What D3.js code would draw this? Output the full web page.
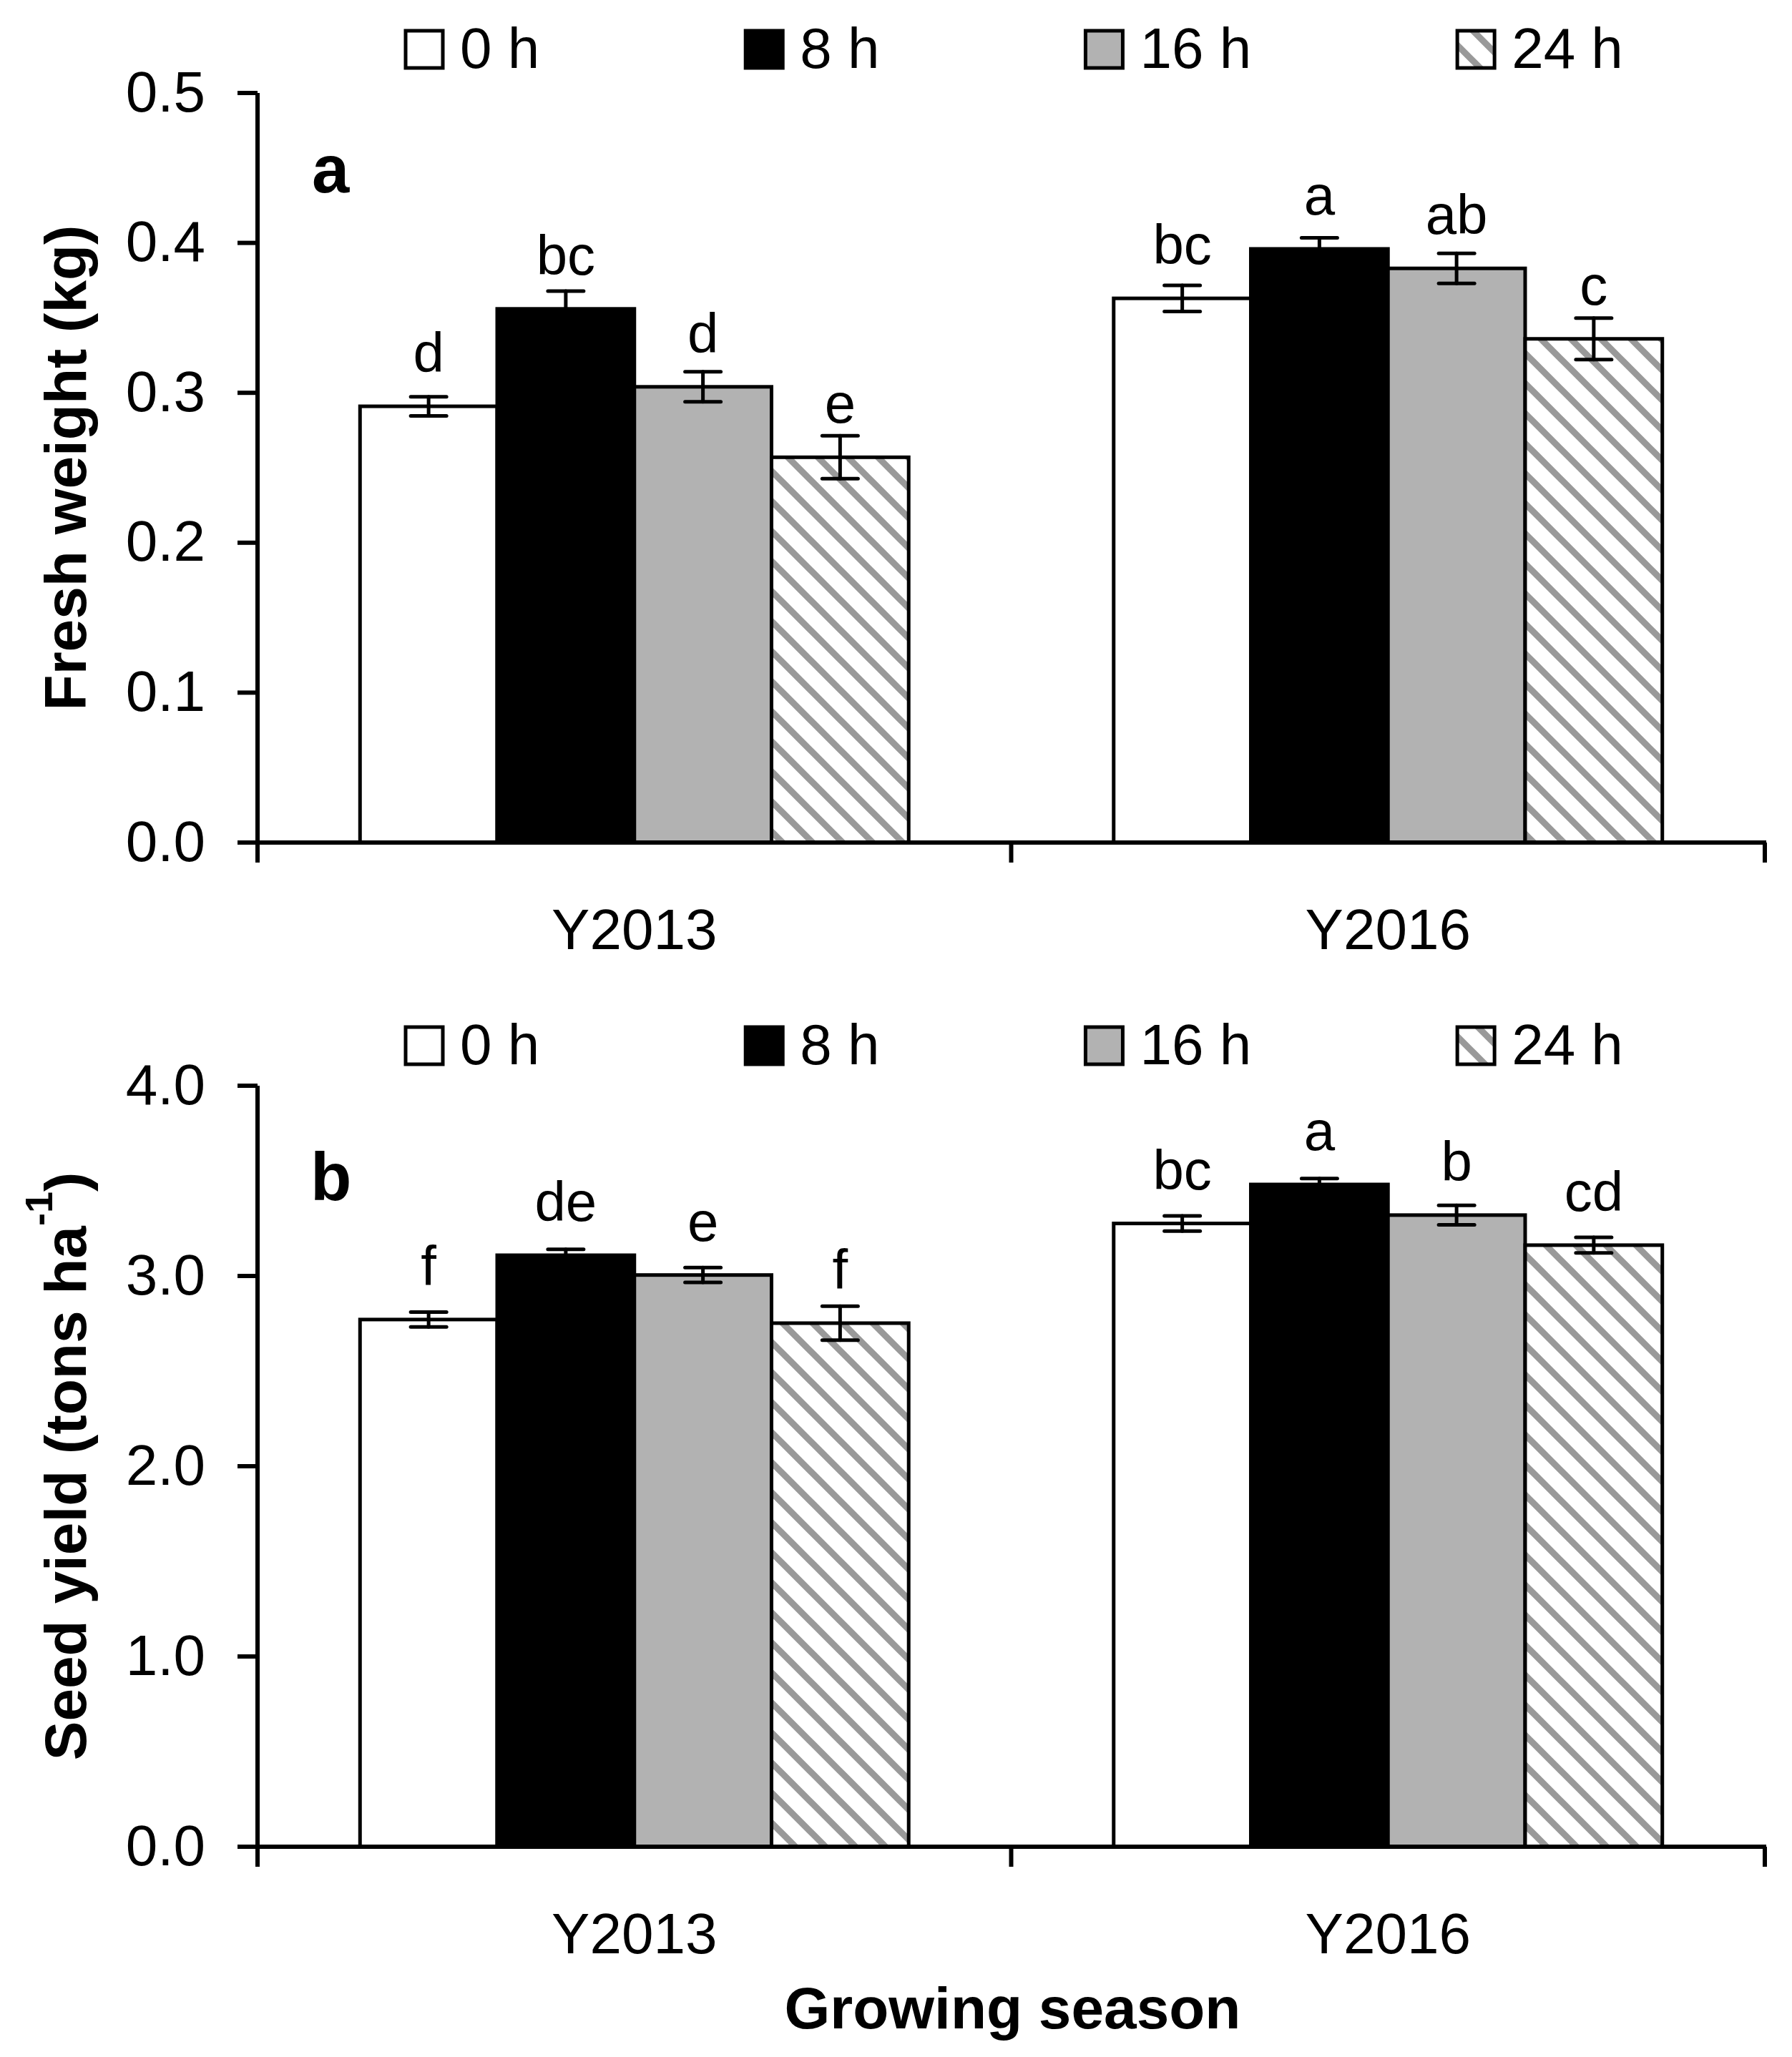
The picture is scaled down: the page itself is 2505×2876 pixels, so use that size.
<!DOCTYPE html>
<html>
<head>
<meta charset="utf-8">
<script src="https://cdn.jsdelivr.net/npm/d3@7"></script>
<style>
  html, body { margin: 0; padding: 0; background: #fff; }
  svg { display: block; }
  text { font-family: "Liberation Sans", Arial, sans-serif; fill: #000; }
</style>
</head>
<body>
<svg id="chart" width="2505" height="2876"></svg>
<script>
// ---------------- data ----------------
const years = ["Y2013", "Y2016"];
const series = ["0 h", "8 h", "16 h", "24 h"];

const freshWeight       = [[0.291, 0.356, 0.304, 0.257], [0.363, 0.396, 0.383, 0.336]];
const freshWeightErr    = [[0.0064, 0.0118, 0.0100, 0.0143], [0.0087, 0.0074, 0.0100, 0.0138]];
const freshWeightLetters = [["d", "bc", "d", "e"], ["bc", "a", "ab", "c"]];
const freshWeightTicks  = [0, 0.1, 0.2, 0.3, 0.4, 0.5];

const seedYield         = [[2.771, 3.109, 3.005, 2.752], [3.276, 3.481, 3.320, 3.162]];
const seedYieldErr      = [[0.039, 0.031, 0.039, 0.089], [0.040, 0.031, 0.051, 0.041]];
const seedYieldLetters  = [["f", "de", "e", "f"], ["bc", "a", "b", "cd"]];
const seedYieldTicks    = [0, 1, 2, 3, 4];

// ---------------- layout ----------------
const W = 2505, H = 2876;
const axisX = 360, axisRight = 2467;
const groupFrac = 0.728;
const fills = ["#ffffff", "#000000", "#b2b2b2", "url(#hatch)"];
const panels = [
  { tag: "a", values: freshWeight, errs: freshWeightErr, letters: freshWeightLetters,
    ticks: freshWeightTicks, top: 130, bottom: 1178, legendTop: 43, legendBase: 95,
    tagBase: 269, tagX: 436, title: [{t: "Fresh weight (kg)"}] },
  { tag: "b", values: seedYield, errs: seedYieldErr, letters: seedYieldLetters,
    ticks: seedYieldTicks, top: 1518, bottom: 2582, legendTop: 1436, legendBase: 1488,
    tagBase: 1678, tagX: 434,
    title: [{t: "Seed yield (tons ha"}, {t: "-1", sup: true}, {t: ")"}] }
];

const svg = d3.select("#chart");
svg.append("rect").attr("width", W).attr("height", H).attr("fill", "#fff");

// hatch pattern (downward diagonal, gray)
const s = 42;
const pat = svg.append("defs").append("pattern")
  .attr("id", "hatch").attr("patternUnits", "userSpaceOnUse")
  .attr("width", s).attr("height", s);
pat.append("rect").attr("width", s).attr("height", s).attr("fill", "#fff");
pat.append("path")
  .attr("d", `M0,0L${s},${s}M${-s/2},${s/2}L${s/2},${s*1.5}M${s/2},${-s/2}L${s*1.5},${s/2}`)
  .attr("stroke", "#999999").attr("stroke-width", 9).attr("fill", "none");

const x0 = d3.scaleBand().domain(years).range([axisX, axisRight]).padding(0);
const bw = x0.bandwidth();
const groupW = bw * groupFrac;
const x1 = d3.scaleBand().domain(series).range([0, groupW]).padding(0);

panels.forEach(p => {
  const y = d3.scaleLinear().domain([0, d3.max(p.ticks)]).range([p.bottom, p.top]);
  const g = svg.append("g");

  // bars
  years.forEach((yr, yi) => {
    const gx = x0(yr) + (bw - groupW) / 2;
    series.forEach((se, si) => {
      const v = p.values[yi][si], e = p.errs[yi][si];
      const bx = gx + x1(se), w = x1.bandwidth();
      g.append("rect")
        .attr("x", bx).attr("y", y(v)).attr("width", w).attr("height", y(0) - y(v))
        .attr("fill", fills[si]).attr("stroke", "#000").attr("stroke-width", 5);
      const cx = bx + w / 2;
      const eg = g.append("g").attr("stroke", "#000").attr("stroke-width", 5)
        .attr("stroke-linecap", "round");
      eg.append("line").attr("x1", cx).attr("x2", cx).attr("y1", y(v + e)).attr("y2", y(v - e));
      eg.append("line").attr("x1", cx - 25).attr("x2", cx + 25).attr("y1", y(v + e)).attr("y2", y(v + e));
      eg.append("line").attr("x1", cx - 25).attr("x2", cx + 25).attr("y1", y(v - e)).attr("y2", y(v - e));
      g.append("text").attr("x", cx).attr("y", y(v) - 48)
        .attr("text-anchor", "middle").attr("font-size", 78)
        .text(p.letters[yi][si]);
    });
  });

  // y axis
  const yAxis = d3.axisLeft(y).tickValues(p.ticks).tickFormat(d3.format(".1f"))
    .tickSize(28).tickSizeOuter(0).tickPadding(45).offset(0);
  const ya = svg.append("g").attr("transform", `translate(${axisX},0)`).call(yAxis);
  ya.select(".domain").attr("stroke", "#000").attr("stroke-width", 6);
  ya.selectAll(".tick line").attr("stroke", "#000").attr("stroke-width", 6);
  ya.selectAll(".tick text").attr("font-size", 80)
    .attr("font-family", "'Liberation Sans', Arial, sans-serif").attr("fill", "#000");

  // x axis (ticks at category boundaries)
  const xa = svg.append("g").attr("stroke", "#000").attr("stroke-width", 6);
  xa.append("line").attr("x1", axisX - 28).attr("x2", axisRight + 2)
    .attr("y1", y(0)).attr("y2", y(0));
  const bounds = years.map(d => x0(d)).concat([x0(years[years.length - 1]) + bw]);
  bounds.forEach(bx => {
    xa.append("line").attr("x1", bx).attr("x2", bx).attr("y1", y(0)).attr("y2", y(0) + 28);
  });
  years.forEach(yr => {
    svg.append("text").attr("x", x0(yr) + bw / 2).attr("y", y(0) + 149)
      .attr("text-anchor", "middle").attr("font-size", 80).text(yr);
  });

  // panel tag
  svg.append("text").attr("x", p.tagX).attr("y", p.tagBase)
    .attr("font-size", 94).attr("font-weight", "bold").text(p.tag);

  // y title
  const cy = (p.top + p.bottom) / 2;
  const tt = svg.append("text")
    .attr("transform", `translate(120,${cy}) rotate(-90)`)
    .attr("text-anchor", "middle").attr("font-size", 82).attr("font-weight", "bold");
  let shifted = false;
  p.title.forEach(part => {
    const ts = tt.append("tspan").text(part.t);
    if (part.sup) { ts.attr("font-size", 54).attr("dy", -47); shifted = true; }
    else if (shifted) { ts.attr("dy", 47); shifted = false; }
  });

  // legend
  let lx = 567;
  series.forEach((se, si) => {
    svg.append("rect").attr("x", lx).attr("y", p.legendTop).attr("width", 52).attr("height", 52)
      .attr("fill", fills[si]).attr("stroke", "#000").attr("stroke-width", 5);
    const t = svg.append("text").attr("x", lx + 76).attr("y", p.legendBase)
      .attr("font-size", 80).text(se);
    lx = lx + 76 + t.node().getComputedTextLength() + 288;
  });
});

// x title
svg.append("text").attr("x", (axisX + axisRight) / 2 + 2).attr("y", 2836)
  .attr("text-anchor", "middle").attr("font-size", 82).attr("font-weight", "bold")
  .text("Growing season");
</script>
</body>
</html>
